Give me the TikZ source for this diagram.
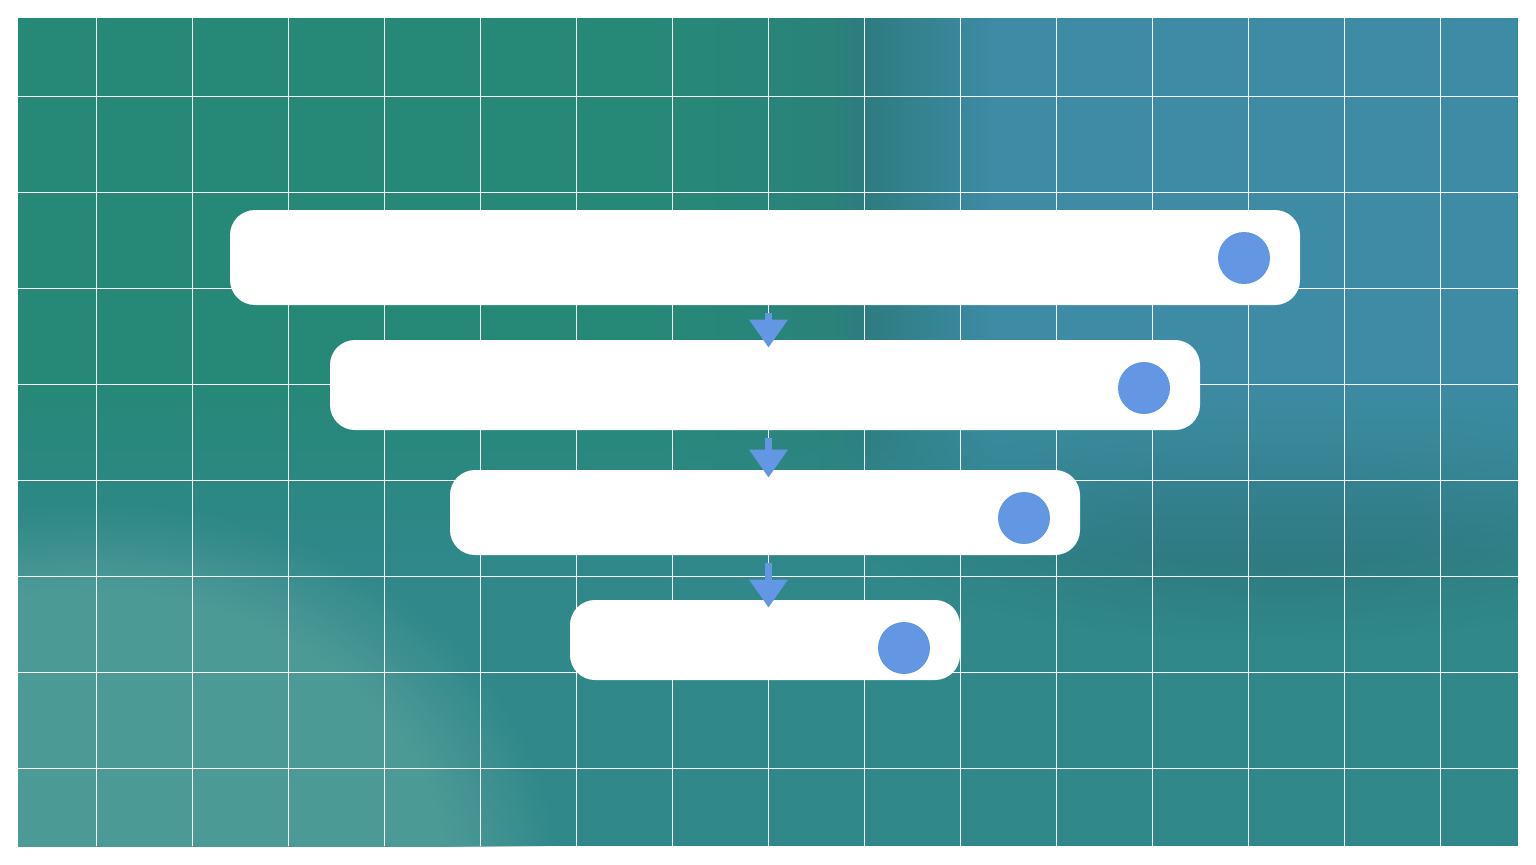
\documentclass[tikz,border=0pt]{standalone}
\usetikzlibrary{arrows.meta,calc,fadings}
\definecolor{cgreen}{HTML}{268978}
\definecolor{cgreenb}{HTML}{2A8279}
\definecolor{cdark}{HTML}{2D7C80}
\definecolor{cblue}{HTML}{3D8BA4}
\definecolor{cbase}{HTML}{30888A}
\definecolor{clight}{HTML}{4C9A96}
\definecolor{cband}{HTML}{2E7B82}
\definecolor{cdot}{HTML}{6396E3}
% horizontal shading for top band (middle 25bp..75bp maps to path)
\pgfdeclarehorizontalshading{topband}{100bp}{color(0bp)=(cgreen); color(46bp)=(cgreen); color(52.2bp)=(cgreenb); color(53.3bp)=(cdark); color(57.5bp)=(cblue); color(100bp)=(cblue)}
% vertical fading: opaque at top, transparent at bottom
\pgfdeclareverticalshading{topfadesh}{100bp}{color(0bp)=(black); color(30bp)=(black); color(45bp)=(white); color(100bp)=(white)}
\pgfdeclarefading{topfade}{\pgfuseshading{topfadesh}}
% soft radial blob fadings
\pgfdeclareradialshading{softblobsh}{\pgfpointorigin}{color(0bp)=(white); color(8bp)=(white); color(25bp)=(black); color(50bp)=(black)}
\pgfdeclarefading{softblob}{\pgfuseshading{softblobsh}}
\pgfdeclareradialshading{lightblobsh}{\pgfpointorigin}{color(0bp)=(white); color(19bp)=(white); color(25bp)=(black); color(50bp)=(black)}
\pgfdeclarefading{lightblob}{\pgfuseshading{lightblobsh}}
\tikzset{
  gridline/.style={white, line width=0.5pt},
  barbox/.style={fill=white, rounded corners=12.5pt, inner sep=0pt, draw=none},
  dotmark/.style={circle, fill=cdot, inner sep=0pt, minimum size=26pt, draw=none},
  flowarrow/.style={draw=cdot, line width=3.6pt, line cap=butt, -{Triangle[length=14pt, width=18.5pt]}},
}
\begin{document}
\begin{tikzpicture}[x=0.5pt, y=-0.5pt]
\useasboundingbox (0,0) rectangle (1536,864);
% background
\begin{scope}
  \clip (18,18) rectangle (1518,846);
  \fill[cbase] (18,18) rectangle (1518,846);
  \fill[clight, path fading=lightblob] (-380,500) rectangle (560,1260);
  \fill[cband, path fading=softblob] (850,400) rectangle (1700,640);
  \shade[shading=topband, path fading=topfade] (18,18) rectangle (1518,620);
\end{scope}
% grid
\foreach \gx in {96,192,...,1440} \draw[gridline] (\gx,18) -- (\gx,846);
\foreach \gy in {96,192,...,768} \draw[gridline] (18,\gy) -- (1518,\gy);
% bars
\node[barbox, minimum width=535pt, minimum height=47.5pt] (b1) at (765,257.5) {};
\node[barbox, minimum width=435pt, minimum height=45pt] (b2) at (765,385) {};
\node[barbox, minimum width=315pt, minimum height=42.5pt] (b3) at (765,512.5) {};
\node[barbox, minimum width=195pt, minimum height=40pt] (b4) at (765,640) {};
% dots
\node[dotmark] (d1) at (1244,258) {};
\node[dotmark] (d2) at (1144,388) {};
\node[dotmark] (d3) at (1024,518) {};
\node[dotmark] (d4) at (904,648) {};
% arrows
\draw[flowarrow] ($(b1.south)+(3.5,8)$) -- ($(b2.north)+(3.5,8)$);
\draw[flowarrow] ($(b2.south)+(3.5,8)$) -- ($(b3.north)+(3.5,8)$);
\draw[flowarrow] ($(b3.south)+(3.5,8)$) -- ($(b4.north)+(3.5,8)$);
\end{tikzpicture}
\end{document}
